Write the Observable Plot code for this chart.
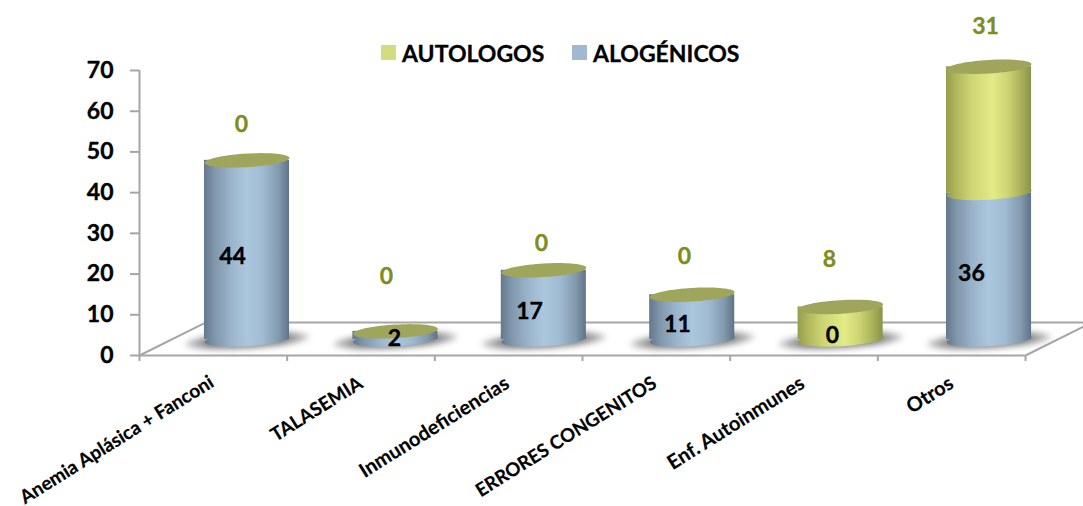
<!DOCTYPE html>
<html>
<head>
<meta charset="utf-8">
<script src="https://cdn.jsdelivr.net/npm/d3@7"></script>
<script src="https://cdn.jsdelivr.net/npm/@observablehq/plot@0.6"></script>
<style>
  html,body{margin:0;padding:0;background:#fff;overflow:hidden}
  #wrap{position:relative;width:1083px;height:506px;font-family:Lato,sans-serif}
  #wrap svg{display:block;max-width:none;background:#fff}
  g[aria-label="cyl"] rect{transform-box:fill-box;transform-origin:center;transform:skewY(-3.2deg)}
  .lg{position:absolute;top:41px;height:24px;line-height:24px;font-weight:700;font-size:23px;color:#000;white-space:nowrap;-webkit-text-stroke:0.3px #000}
  .sw{position:absolute;top:45px;width:15px;height:15px}
</style>
</head>
<body>
<div id="wrap">
  <div class="sw" style="left:381px;background:#d5dc80"></div>
  <div class="lg" style="left:402px">AUTOLOGOS</div>
  <div class="sw" style="left:572px;background:#a0b8d0"></div>
  <div class="lg" style="left:593px">ALOGÉNICOS</div>
</div>
<script>
// Data
const categories = ["Anemia Aplásica + Fanconi","TALASEMIA","Inmunodeficiencias","ERRORES CONGENITOS","Enf. Autoinmunes","Otros"];
const alogenicos = [44,2,17,11,0,36];
const autologos  = [0,0,0,0,8,31];
const yTicks = [0,10,20,30,40,50,60,70];

// Label placement, in data units of the two scales
const autoLabelX = [0.691,1.673,2.722,3.691,4.673,5.729];
const autoLabelY = [56.7,19.4,27.5,24.3,23.6,80.8];
const aloLabelX  = [0.63,1.727,2.641,3.643,4.693,5.634];
const aloLabelY  = [24.3,4.2,10.8,7.6,4.9,20.1];
const catLabelX  = [0.49,1.5,2.49,3.49,4.49,5.5];
const catLabelSize = [19,19,20,18.7,20,20];

// Layout
const floorDepthX = 0.447, floorDepthY = 8.1, halfBar = 0.288, rx = 42.5, ry = 6.8, tilt = -3.4 * Math.PI / 180;
const lift = -16;
const center = i => i * 1.005 + 0.728;

const rows = categories.map((c,i) => ({
  c, cx: center(i), x1: center(i) - halfBar, x2: center(i) + halfBar,
  a: alogenicos[i], t: alogenicos[i] + autologos[i]
}));

const ellipse = (a,b) => ({draw(ctx){
  for (let k = 0; k < 72; ++k) {
    const th = k / 72 * 2 * Math.PI, ex = a * Math.cos(th), ey = b * Math.sin(th);
    const px = ex * Math.cos(tilt) - ey * Math.sin(tilt), py = ex * Math.sin(tilt) + ey * Math.cos(tilt);
    k ? ctx.lineTo(px,py) : ctx.moveTo(px,py);
  }
  ctx.closePath();
}});

const grad = (id, stops) => {
  const g = d3.create("svg:linearGradient").attr("id",id).attr("x1",0).attr("x2",1).attr("y1",0).attr("y2",0);
  stops.forEach(([o,c]) => g.append("stop").attr("offset",o).attr("stop-color",c));
  return g.node();
};
const defs = () => {
  const d = d3.create("svg:defs");
  d.node().append(
    grad("gBlue",[[0,"#64788c"],[0.12,"#7f95aa"],[0.3,"#98b2c9"],[0.5,"#abc7de"],[0.7,"#9fbad1"],[0.88,"#8299ae"],[1,"#5f7386"]]),
    grad("gYellow",[[0,"#969d4d"],[0.12,"#b0b75c"],[0.3,"#ced674"],[0.55,"#e2eb86"],[0.72,"#cdd574"],[0.88,"#aab159"],[1,"#8c934a"]]),
    grad("gShadow",[[0,"#c8c8c8"],[0.2,"#808080"],[0.8,"#808080"],[1,"#c8c8c8"]])
  );
  return d.node();
};

const gray = "#a6a6a6";
const boldText = {fontFamily:"Lato", fontWeight:700, stroke:"#000", strokeWidth:0.35};

const chart = Plot.plot({
  width: 1083, height: 506,
  marginLeft: 139, marginRight: 58, marginTop: 70, marginBottom: 151,
  style: {background:"#fff", overflow:"hidden"},
  x: {type:"linear", domain:[0,6], axis:null},
  y: {domain:[0,70], axis:null},
  marks: [
    defs,
    // Walls and floor
    Plot.ruleX([0], {y1:0, y2:70, stroke:gray, strokeWidth:2}),
    Plot.ruleY([0], {stroke:gray, strokeWidth:2}),
    Plot.ruleY([floorDepthY], {x1:floorDepthX, x2:6.5, stroke:gray, strokeWidth:2}),
    Plot.link([0,6], {x1:d=>d, y1:0, x2:d=>d+floorDepthX, y2:floorDepthY, stroke:gray, strokeWidth:2}),
    Plot.axisY({ticks:yTicks, tickSize:9, tickPadding:17, stroke:gray, strokeWidth:2, fill:"#000", textStroke:"#000", textStrokeWidth:0.35, textStrokeOpacity:1, fontSize:23, fontFamily:"Lato", fontWeight:700, label:null}),
    Plot.axisX({ticks:d3.range(0,7), tickSize:6, stroke:gray, strokeWidth:2, tickFormat:()=>"", label:null}),
    // Shadows
    Plot.dot(rows, {x:"cx", y:0, dy:lift+1, symbol:ellipse(62,7.5), fill:"url(#gShadow)", imageFilter:"blur(3px)"}),
    // Cylinders
    Plot.dot(rows.filter(d=>d.a>0), {x:"cx", y:0, dy:lift, symbol:ellipse(rx,ry), fill:"url(#gBlue)"}),
    Plot.rect(rows.filter(d=>d.a>0), {x1:"x1", x2:"x2", y1:0, y2:"a", dy:lift, fill:"url(#gBlue)", ariaLabel:"cyl"}),
    Plot.dot(rows.filter(d=>d.t>d.a), {x:"cx", y:"a", dy:lift, symbol:ellipse(rx,ry), fill:"url(#gYellow)"}),
    Plot.rect(rows.filter(d=>d.t>d.a), {x1:"x1", x2:"x2", y1:"a", y2:"t", dy:lift, fill:"url(#gYellow)", ariaLabel:"cyl"}),
    Plot.dot(rows, {x:"cx", y:"t", dy:lift, symbol:ellipse(rx,ry), fill:"#a0a55c"}),
    // Value labels
    Plot.text(autologos, {x:(d,i)=>autoLabelX[i], y:(d,i)=>autoLabelY[i], text:d=>String(d), fill:"#7f8c1e", fontSize:23, fontFamily:"Lato", fontWeight:700, stroke:"#7f8c1e", strokeWidth:0.35}),
    Plot.text(alogenicos, {x:(d,i)=>aloLabelX[i], y:(d,i)=>aloLabelY[i], text:d=>String(d), fill:"#000", fontSize:23, ...boldText}),
    // Category labels
    ...categories.map((c,i) => Plot.text([c], {x:catLabelX[i], y:0, dy:i ? 26 : 25, text:d=>d, rotate:-32, textAnchor:"end", fill:"#000", fontSize:catLabelSize[i], ...boldText, strokeWidth:0.2}))
  ]
});
document.getElementById("wrap").prepend(chart);
</script>
</body>
</html>
